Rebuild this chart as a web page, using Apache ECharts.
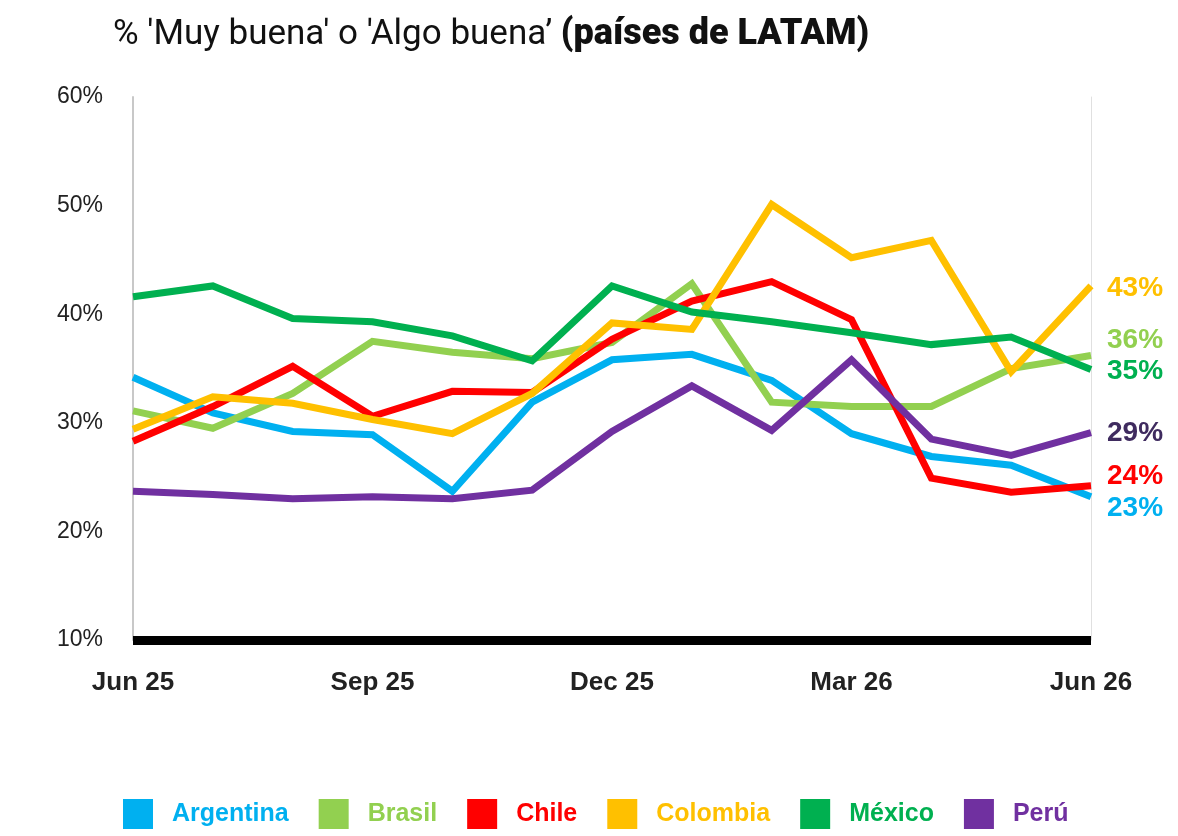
<!DOCTYPE html>
<html>
<head>
<meta charset="utf-8">
<script src="https://cdn.jsdelivr.net/npm/echarts@6/dist/echarts.min.js"></script>
<style>
  html, body { margin: 0; padding: 0; background: #fff; }
  #chart { width: 1178px; height: 836px; }
</style>
</head>
<body>
<div id="chart"></div>
<script>
// months, labelled every 3rd
const months = ["Jun 25", "Jul 25", "Aug 25", "Sep 25", "Oct 25", "Nov 25", "Dec 25",
  "Jan 26", "Feb 26", "Mar 26", "Apr 26", "May 26", "Jun 26"];

const argentina = [34.2, 30.9, 29.2, 28.9, 23.7, 31.9, 35.8, 36.3, 33.9, 29.0, 26.9, 26.1, 23.2];
const brasil    = [31.1, 29.5, 32.7, 37.5, 36.5, 35.9, 37.4, 42.8, 31.9, 31.5, 31.5, 35.0, 36.2];
const chile     = [28.3, 31.5, 35.2, 30.6, 32.9, 32.8, 37.7, 41.2, 43.0, 39.5, 24.9, 23.6, 24.2];
const colombia  = [29.4, 32.4, 31.8, 30.3, 29.0, 32.7, 39.2, 38.6, 50.1, 45.2, 46.8, 34.7, 42.6];
const mexico    = [41.6, 42.6, 39.6, 39.3, 38.0, 35.7, 42.6, 40.2, 39.3, 38.3, 37.2, 37.9, 34.9];
const peru      = [23.7, 23.4, 23.0, 23.2, 23.0, 23.8, 29.2, 33.4, 29.3, 35.8, 28.5, 27.0, 29.1];

const yTicks = [10, 20, 30, 40, 50, 60];

const countries = [
  { name: "Argentina", data: argentina, color: "#00B0F0", labelColor: "#00B0F0", dy: 12 },
  { name: "Brasil", data: brasil, color: "#92D050", labelColor: "#92D050", dy: -15 },
  { name: "Chile", data: chile, color: "#FF0000", labelColor: "#FF0000", dy: -10 },
  { name: "Colombia", data: colombia, color: "#FFC000", labelColor: "#FFC000", dy: 2 },
  { name: "México", data: mexico, color: "#00B050", labelColor: "#00B050", dy: 2 },
  { name: "Perú", data: peru, color: "#7030A0", labelColor: "#3F2B5F", dy: 1 }
];

const font = "'Liberation Sans', Arial, sans-serif";

const series = countries.map(c => ({
  name: c.name,
  type: "line",
  data: c.data,
  showSymbol: false,
  symbol: "none",
  lineStyle: { width: 7, color: c.color, join: "miter" },
  itemStyle: { color: c.color },
  endLabel: {
    show: true,
    distance: 16,
    offset: [0, c.dy],
    formatter: p => Math.round(p.value) + "%",
    color: c.labelColor,
    fontFamily: font,
    fontWeight: "bold",
    fontSize: 28
  }
}));

const chart = echarts.init(document.getElementById("chart"));
chart.setOption({
  animation: false,
  backgroundColor: "#fff",
  title: {
    left: 108,
    top: 12,
    text: "{a|% 'Muy buena' o 'Algo buena’ }{b|(países de LATAM)}",
    textStyle: {
      rich: {
        a: { fontFamily: "Roboto, sans-serif", fontSize: 35, fontWeight: "normal", color: "#111" },
        b: { fontFamily: "Roboto, sans-serif", fontSize: 36, fontWeight: 900, color: "#111" }
      }
    }
  },
  legend: {
    bottom: 2,
    left: 118,
    itemWidth: 30,
    itemHeight: 30,
    itemGap: 30,
    icon: "rect",
    data: countries.map(c => ({
      name: c.name,
      textStyle: { color: c.color }
    })),
    textStyle: {
      fontFamily: font,
      fontWeight: "bold",
      fontSize: 25,
      padding: [6, 0, 0, 14]
    }
  },
  grid: { left: 133, right: 87, top: 97, bottom: 196, containLabel: false },
  xAxis: {
    type: "category",
    boundaryGap: false,
    data: months,
    axisLine: { show: true, lineStyle: { color: "#000", width: 9, cap: "butt" } },
    axisTick: { show: false },
    splitLine: { show: false },
    axisLabel: {
      interval: 2,
      margin: 30,
      color: "#222",
      fontFamily: font,
      fontWeight: "bold",
      fontSize: 26
    }
  },
  yAxis: [
    {
      type: "value",
      min: yTicks[0],
      max: yTicks[yTicks.length - 1],
      interval: 10,
      axisLine: { show: true, lineStyle: { color: "#c8c8c8", width: 2 } },
      axisTick: { show: false },
      splitLine: { show: false },
      axisLabel: {
        margin: 30,
        formatter: "{value}%",
        color: "#222",
        fontFamily: font,
        fontSize: 23
      }
    },
    {
      type: "value",
      position: "right",
      min: yTicks[0],
      max: yTicks[yTicks.length - 1],
      interval: 10,
      axisLine: { show: true, lineStyle: { color: "#e0e0e0", width: 1 } },
      axisTick: { show: false },
      splitLine: { show: false },
      axisLabel: { show: false }
    }
  ],
  series: series
});
</script>
</body>
</html>
